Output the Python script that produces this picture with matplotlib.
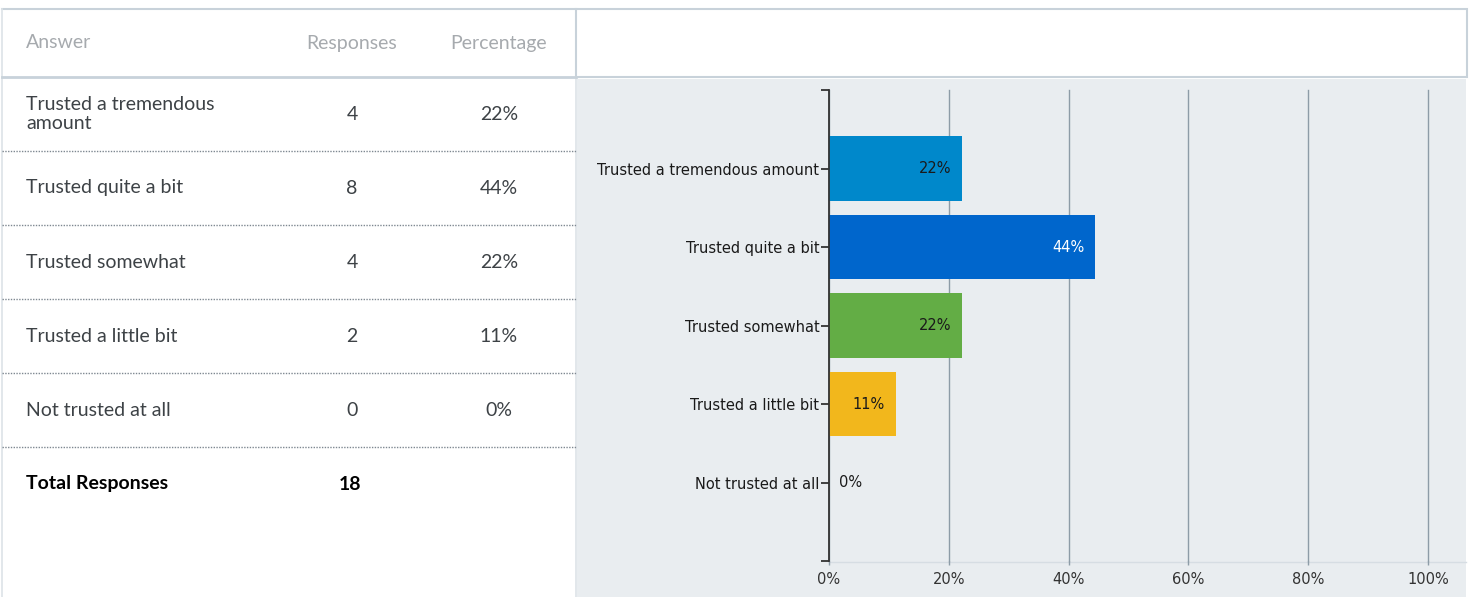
import textwrap
import matplotlib.pyplot as plt
from matplotlib.patches import Rectangle

answers = ["Trusted a tremendous amount", "Trusted quite a bit", "Trusted somewhat",
           "Trusted a little bit", "Not trusted at all"]
responses = [4, 8, 4, 2, 0]
pct_labels = ["22%", "44%", "22%", "11%", "0%"]
total = 18
bar_colors = ["#0088CB", "#0066CC", "#63AD45", "#F2B71C", "#999999"]
label_colors = ["#1A1A1A", "white", "#1A1A1A", "#1A1A1A", "#1A1A1A"]
xticks = [0, 20, 40, 60, 80, 100]
headers = ["Answer", "Responses", "Percentage"]

pcts = [r / total * 100 for r in responses]

W, H = 1472, 597
fig = plt.figure(figsize=(W / 100, H / 100), dpi=100)
fig.patch.set_facecolor("white")

# background axes in pixel coords (y down)
bg = fig.add_axes([0, 0, 1, 1])
bg.set_xlim(0, W)
bg.set_ylim(H, 0)
bg.axis("off")

line_c = "#C8D2DA"
# chart panel + header box on the right
bg.add_patch(Rectangle((577, 79), 889, 520, facecolor="#E9EDF0", edgecolor="none"))
bg.add_patch(Rectangle((576, 9), 891, 68, facecolor="white", edgecolor=line_c, lw=1.5))
# table frame
bg.plot([2, 576], [9, 9], color=line_c, lw=1.5)
bg.plot([2, 2], [9, 597], color="#DDE3E8", lw=1.2)
bg.plot([576, 576], [77, 597], color="#DDE3E8", lw=1.2)
bg.plot([2, 576], [76.5, 76.5], color=line_c, lw=2)

tfont = "Lato"
fs = 14
col_x = [26, 352, 499]
bg.text(col_x[0], 43, headers[0], ha="left", va="center", fontsize=fs, color="#A6AAAE", family=tfont)
bg.text(col_x[1], 43, headers[1], ha="center", va="center", fontsize=fs, color="#A6AAAE", family=tfont)
bg.text(col_x[2], 43, headers[2], ha="center", va="center", fontsize=fs, color="#A6AAAE", family=tfont)

row_h = 74
for i, (a, r, p) in enumerate(zip(answers, responses, pct_labels)):
    yc = 114 + i * row_h
    bg.text(col_x[0], yc, textwrap.fill(a, 20), ha="left", va="center", fontsize=fs,
            color="#3D4246", family=tfont, linespacing=1.2)
    bg.text(col_x[1], yc, str(r), ha="center", va="center", fontsize=fs, color="#3D4246", family=tfont)
    bg.text(col_x[2], yc, p, ha="center", va="center", fontsize=fs, color="#3D4246", family=tfont)
    bg.plot([2, 576], [yc + 37, yc + 37], color="#7E8891", lw=1, ls=(0, (1, 1)))
yt = 114 + len(answers) * row_h
bg.text(col_x[0], yt, "Total Responses", ha="left", va="center", fontsize=fs,
        color="black", family=tfont, fontweight="bold")
bg.text(col_x[1] - 2, yt, str(total), ha="center", va="center", fontsize=fs,
        color="black", family=tfont, fontweight="bold")

# faint baseline under chart
bg.plot([829, 1466], [561.5, 561.5], color="#D6DDE3", lw=1)

# bar chart
cfs = 10.5
ax = fig.add_axes([829 / W, (H - 561) / H, (1428 - 829) / W, (561 - 90) / H])
ax.set_facecolor("none")
ax.set_axisbelow(True)
ypos = list(range(len(answers)))
ax.barh(ypos, pcts, height=0.82, color=bar_colors)
ax.set_xlim(0, 100)
ax.set_ylim(len(answers), -1)
ax.grid(axis="x", color="#8D9CA7", lw=1)
for gl in ax.get_xgridlines():
    gl.set_clip_on(False)
ax.set_xticks(xticks)
ax.set_xticklabels([f"{v}%" for v in xticks])
ax.set_yticks([-1] + ypos + [len(answers)])
ax.set_yticklabels([""] + answers + [""])
ax.tick_params(axis="y", length=6, width=1.3, color="#333333", pad=1, labelsize=cfs, labelcolor="#1A1A1A")
ax.tick_params(axis="x", length=3, width=1, color="#8D9CA7", pad=5, labelsize=cfs, labelcolor="#333333")
for s in ["top", "right", "bottom"]:
    ax.spines[s].set_visible(False)
ax.spines["left"].set_color("#333333")
ax.spines["left"].set_linewidth(1.3)

for y, v, lab, lc in zip(ypos, pcts, pct_labels, label_colors):
    if v > 5:
        ax.annotate(lab, (v, y), xytext=(-8, 0), textcoords="offset points", ha="right",
                    va="center", fontsize=cfs, color=lc)
    else:
        ax.annotate(lab, (v, y), xytext=(7, 0), textcoords="offset points", ha="left",
                    va="center", fontsize=cfs, color=lc)

fig.savefig("out.png", dpi=100)
